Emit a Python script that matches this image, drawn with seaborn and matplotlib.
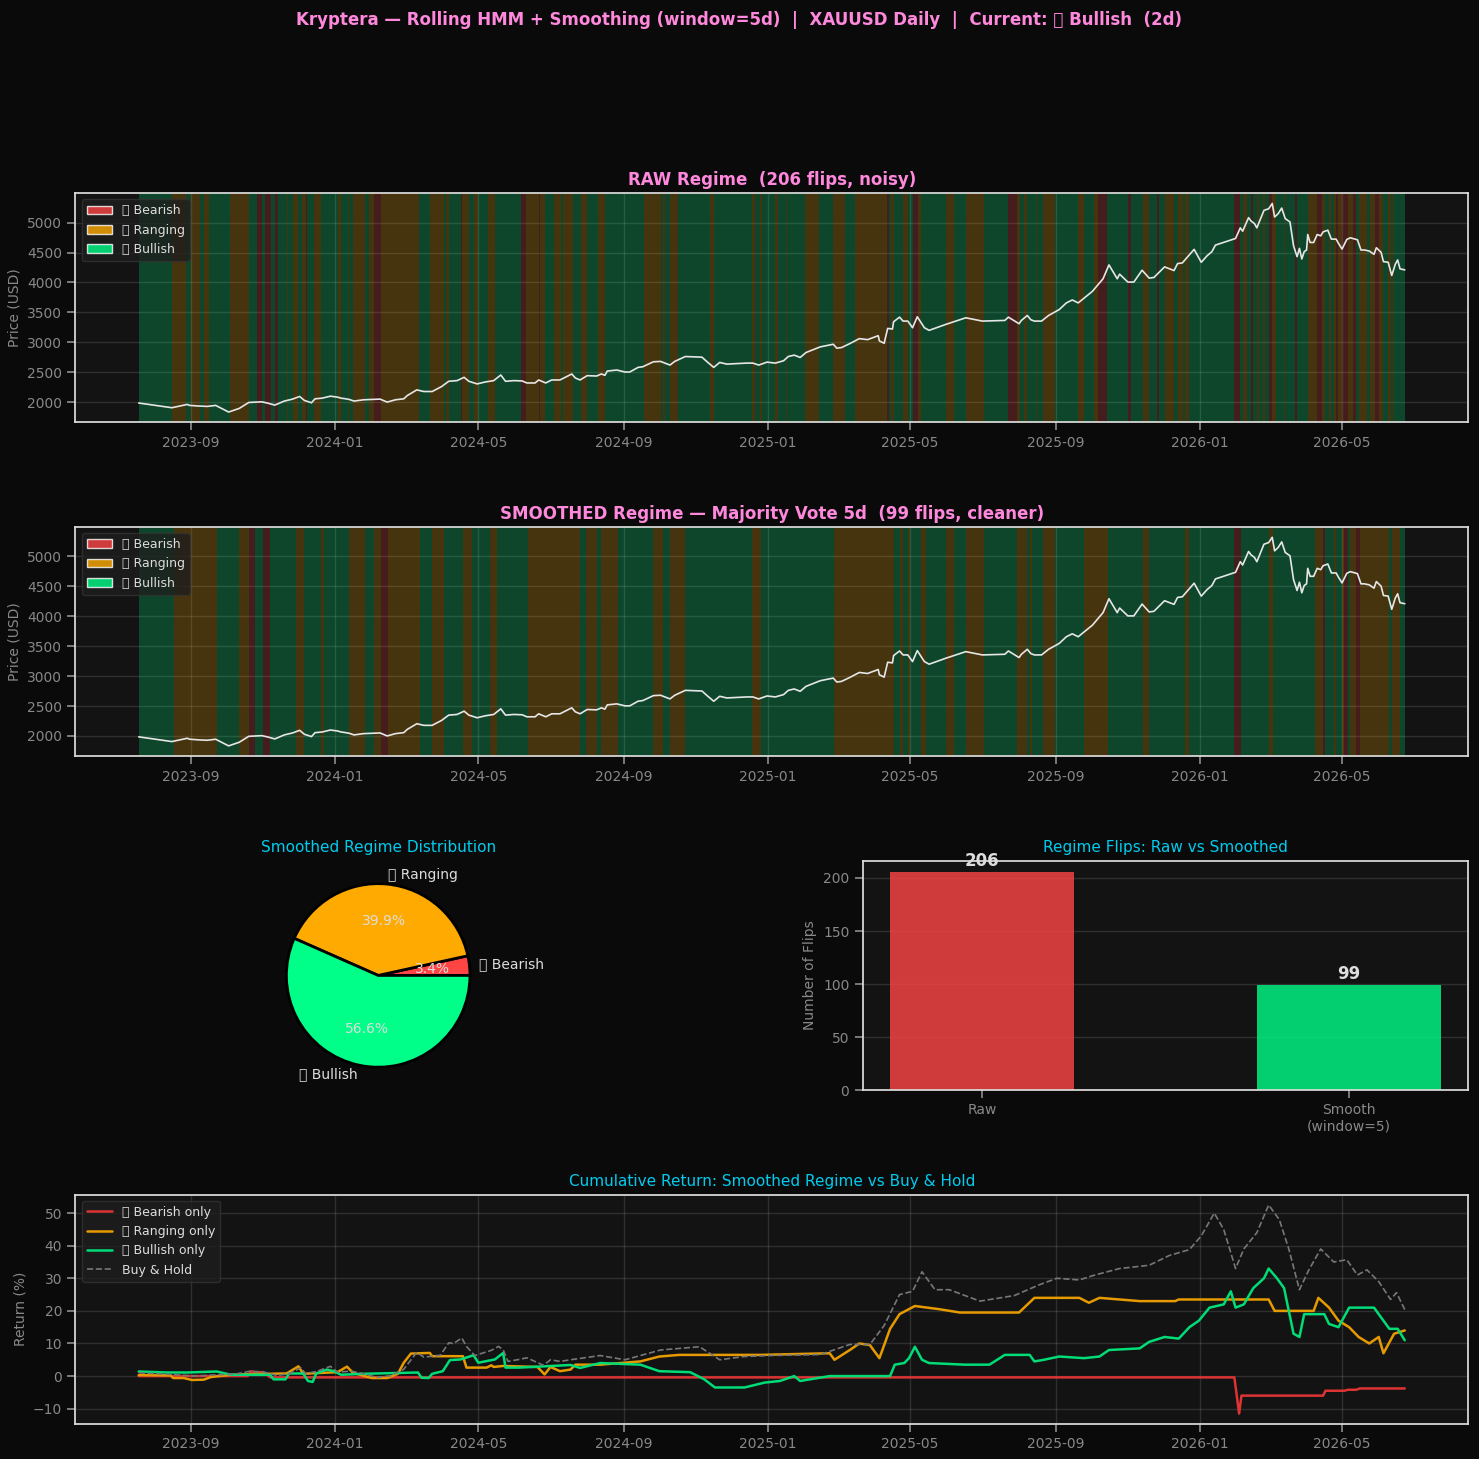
import pandas as pd
import matplotlib
matplotlib.use('Agg')
import matplotlib.pyplot as plt
import matplotlib.dates as mdates
from matplotlib.ticker import MultipleLocator
from matplotlib.patches import Patch
import seaborn as sns

START = pd.Timestamp('2023-07-19')
END_DAY = 1070

# price: (days since start, USD)
price_points = [
    (0, 1985), (28, 1906), (41, 1961), (43, 1945), (51, 1934), (58, 1928), (65, 1945), (76, 1834),
    (85, 1895), (93, 1994), (99, 2000), (104, 2005), (109, 1983), (115, 1950), (123, 2017), (130, 2050),
    (136, 2094), (140, 2028), (146, 1989), (149, 2055), (155, 2066), (162, 2099), (168, 2083), (171, 2066),
    (175, 2055), (178, 2044), (182, 2017), (190, 2039), (204, 2050), (210, 2000), (217, 2039), (224, 2055),
    (227, 2110), (235, 2204), (241, 2177), (248, 2177), (256, 2260), (262, 2348), (269, 2359), (275, 2414),
    (279, 2348), (286, 2304), (293, 2337), (300, 2359), (306, 2453), (310, 2348), (317, 2359), (324, 2354),
    (328, 2320), (335, 2320), (338, 2370), (344, 2320), (349, 2370), (356, 2370), (366, 2470), (369, 2403),
    (373, 2370), (379, 2442), (387, 2436), (391, 2470), (394, 2448), (396, 2519), (404, 2536), (411, 2503),
    (415, 2503), (422, 2580), (426, 2591), (435, 2674), (441, 2680), (449, 2619), (453, 2680), (462, 2762),
    (476, 2751), (481, 2663), (486, 2580), (491, 2663), (497, 2635), (514, 2652), (519, 2652), (524, 2619),
    (531, 2668), (538, 2652), (545, 2691), (549, 2762), (554, 2785), (559, 2746), (564, 2829), (576, 2923),
    (587, 2967), (590, 2901), (594, 2912), (601, 2978), (609, 3061), (616, 3044), (625, 3110), (626, 3022),
    (630, 2983), (633, 3232), (637, 3221), (638, 3343), (643, 3420), (646, 3354), (650, 3354), (654, 3243),
    (658, 3426), (664, 3243), (668, 3199), (682, 3298), (699, 3409), (713, 3354), (732, 3365), (735, 3420),
    (744, 3310), (746, 3365), (751, 3448), (754, 3376), (757, 3354), (763, 3354), (769, 3448), (778, 3547),
    (784, 3658), (789, 3707), (794, 3658), (806, 3851), (815, 4061), (820, 4293), (823, 4193), (827, 4061),
    (829, 4138), (836, 4006), (841, 4006), (848, 4204), (854, 4072), (858, 4083), (867, 4260), (875, 4199),
    (878, 4315), (882, 4326), (892, 4553), (898, 4337), (903, 4447), (907, 4514), (910, 4624), (927, 4735),
    (931, 4912), (933, 4857), (938, 5083), (940, 5028), (943, 4983), (945, 4912), (951, 5204), (955, 5232),
    (958, 5320), (960, 5094), (963, 5149), (966, 5243), (969, 5066), (973, 5011), (976, 4613), (979, 4431),
    (981, 4569), (983, 4392), (985, 4514), (987, 4542), (988, 4801), (990, 4668), (993, 4668), (996, 4801),
    (999, 4779), (1001, 4845), (1005, 4873), (1008, 4724), (1012, 4724), (1014, 4652), (1017, 4558),
    (1021, 4718), (1024, 4746), (1030, 4713), (1033, 4542), (1036, 4542), (1040, 4525), (1044, 4470),
    (1046, 4580), (1050, 4503), (1052, 4348), (1056, 4337), (1059, 4116), (1062, 4304), (1064, 4376),
    (1066, 4227), (1070, 4210),
]

# regime segments: (start day, state) - R bearish, Y ranging, G bullish; each runs to the next start
raw_segments = [
    (0, 'G'), (28, 'Y'), (40, 'G'), (44, 'Y'), (52, 'G'), (55, 'Y'), (59, 'G'), (77, 'Y'), (93, 'G'),
    (100, 'R'), (104, 'G'), (107, 'R'), (112, 'G'), (115, 'R'), (118, 'G'), (125, 'Y'), (126, 'G'),
    (130, 'Y'), (135, 'G'), (138, 'Y'), (141, 'R'), (142, 'G'), (148, 'Y'), (154, 'G'), (168, 'Y'),
    (171, 'G'), (177, 'Y'), (178, 'G'), (181, 'Y'), (191, 'G'), (195, 'Y'), (199, 'R'), (205, 'Y'),
    (237, 'G'), (246, 'Y'), (258, 'G'), (260, 'Y'), (262, 'G'), (272, 'R'), (273, 'Y'), (279, 'G'),
    (283, 'Y'), (287, 'G'), (295, 'Y'), (301, 'G'), (323, 'R'), (327, 'Y'), (338, 'R'), (339, 'Y'),
    (343, 'G'), (351, 'Y'), (357, 'G'), (359, 'Y'), (367, 'G'), (374, 'Y'), (379, 'G'), (388, 'Y'),
    (393, 'G'), (394, 'Y'), (395, 'G'), (427, 'Y'), (441, 'G'), (443, 'Y'), (445, 'G'), (449, 'Y'),
    (456, 'G'), (483, 'Y'), (486, 'G'), (518, 'Y'), (521, 'G'), (525, 'Y'), (527, 'G'), (538, 'Y'),
    (540, 'G'), (547, 'Y'), (548, 'G'), (563, 'Y'), (575, 'G'), (587, 'Y'), (597, 'G'), (605, 'Y'),
    (632, 'R'), (634, 'G'), (636, 'Y'), (638, 'G'), (646, 'Y'), (650, 'G'), (654, 'R'), (659, 'Y'),
    (661, 'G'), (682, 'Y'), (689, 'G'), (699, 'Y'), (714, 'G'), (735, 'R'), (742, 'Y'), (745, 'G'),
    (748, 'Y'), (751, 'G'), (758, 'Y'), (759, 'G'), (764, 'Y'), (774, 'G'), (794, 'Y'), (799, 'G'),
    (807, 'Y'), (811, 'R'), (818, 'G'), (836, 'R'), (839, 'G'), (849, 'Y'), (854, 'G'), (861, 'R'),
    (862, 'G'), (867, 'Y'), (875, 'G'), (878, 'Y'), (883, 'G'), (884, 'Y'), (888, 'G'), (926, 'R'),
    (931, 'G'), (933, 'Y'), (937, 'G'), (940, 'R'), (942, 'G'), (945, 'Y'), (947, 'G'), (950, 'Y'),
    (952, 'G'), (955, 'R'), (958, 'Y'), (961, 'G'), (968, 'Y'), (969, 'G'), (977, 'R'), (979, 'G'),
    (988, 'Y'), (996, 'R'), (1000, 'Y'), (1003, 'G'), (1006, 'Y'), (1008, 'G'), (1010, 'Y'), (1012, 'R'),
    (1014, 'Y'), (1017, 'R'), (1022, 'Y'), (1026, 'R'), (1029, 'G'), (1031, 'Y'), (1038, 'G'),
    (1041, 'Y'), (1045, 'R'), (1048, 'Y'), (1052, 'G'), (1056, 'Y'), (1058, 'G'), (1060, 'Y'), (1061, 'G'),
]
smooth_segments = [
    (0, 'G'), (30, 'Y'), (66, 'G'), (85, 'Y'), (93, 'R'), (98, 'G'), (105, 'R'), (111, 'G'), (133, 'Y'),
    (140, 'G'), (154, 'Y'), (157, 'G'), (178, 'Y'), (191, 'G'), (199, 'Y'), (205, 'R'), (211, 'Y'),
    (238, 'G'), (248, 'Y'), (258, 'G'), (274, 'Y'), (282, 'G'), (297, 'Y'), (303, 'G'), (329, 'Y'),
    (373, 'G'), (378, 'Y'), (387, 'G'), (391, 'Y'), (405, 'G'), (435, 'Y'), (443, 'G'), (449, 'Y'),
    (462, 'G'), (518, 'Y'), (526, 'G'), (588, 'Y'), (638, 'G'), (643, 'Y'), (646, 'G'), (650, 'Y'),
    (652, 'G'), (661, 'Y'), (665, 'G'), (682, 'Y'), (689, 'G'), (699, 'Y'), (714, 'G'), (742, 'Y'),
    (751, 'G'), (753, 'Y'), (755, 'G'), (764, 'Y'), (774, 'G'), (799, 'Y'), (819, 'G'), (849, 'Y'),
    (854, 'G'), (884, 'Y'), (888, 'G'), (926, 'R'), (932, 'G'), (955, 'Y'), (959, 'G'), (994, 'Y'),
    (1001, 'R'), (1003, 'G'), (1010, 'Y'), (1012, 'G'), (1017, 'Y'), (1019, 'R'), (1022, 'G'),
    (1024, 'Y'), (1029, 'R'), (1032, 'Y'), (1057, 'G'), (1059, 'Y'), (1066, 'G'),
]

pie_labels = ['\U0001F534 Bearish', '\U0001F7E1 Ranging', '\U0001F7E2 Bullish']
pie_share = [3.44, 39.94, 56.62]

flip_labels = ['Raw', 'Smooth\n(window=5)']
flip_counts = [206, 99]

# cumulative returns (%): (days since start, value)
bear_points = [(0, 0), (92, 0), (95, 1.5), (98, 1.2), (105, 1.2), (108, 0.5), (111, -0.4), (926, -0.4),
               (930, -11.5), (932, -6), (1001, -6), (1003, -4.5), (1019, -4.5), (1022, -4.2), (1029, -4.2),
               (1032, -3.8), (1070, -3.8)]
rang_points = [(0, 0.3), (27, 0.2), (29, -0.6), (38, -0.6), (45, -1.2), (55, -1.1), (61, -0.3), (78, 0.4),
               (94, 0.6), (125, 0.8), (135, 3.0), (139, 0.7), (156, 1.0), (168, 1.2), (176, 2.9), (181, 1.0),
               (197, -0.6), (210, -0.6), (219, 0.7), (224, 4.1), (230, 6.9), (246, 7.1), (248, 6.1), (274, 6.1),
               (277, 2.6), (294, 2.6), (298, 3.3), (300, 2.8), (308, 3.1), (337, 2.8), (343, 0.5), (348, 2.8),
               (356, 1.5), (365, 2.0), (369, 3.5), (390, 3.5), (424, 4.5), (440, 6), (457, 6.5),
               (474, 6.5), (525, 6.5), (584, 7), (588, 5), (601, 8), (609, 10), (618, 9.5), (626, 5.5),
               (635, 14.5), (643, 19), (656, 21.5), (677, 20.5), (694, 19.5), (744, 19.5), (757, 24),
               (795, 24), (803, 22.5), (812, 24), (846, 23), (876, 23), (879, 23.5), (955, 23.5), (960, 20),
               (993, 20), (997, 24), (1006, 21), (1014, 17), (1023, 15), (1031, 12), (1040, 10), (1048, 12),
               (1052, 7), (1061, 13), (1070, 14)]
bull_points = [(0, 1.4), (24, 1.1), (41, 1.1), (66, 1.4), (78, 0.4), (111, 0.4), (114, -1.0), (124, -1.0),
               (127, 0.8), (139, 0.8), (143, -1.5), (147, -1.8), (150, 0.8), (159, 2.0), (165, 1.5), (171, 0.4),
               (190, 0.7), (236, 1.1), (239, -0.5), (245, -0.6), (248, 0.7), (257, 1.5), (263, 4.9),
               (272, 5.1), (283, 6.4), (287, 4.1), (301, 5.1), (308, 7.1), (310, 2.6), (322, 2.6), (365, 3.4),
               (373, 2.5), (390, 4), (424, 3.5), (440, 1.5), (466, 1.2), (478, -1), (487, -3.5), (512, -3.5),
               (529, -2), (542, -1.5), (554, 0), (559, -1.5), (584, 0), (635, 0), (639, 3.5), (647, 4),
               (651, 5.5), (656, 9), (662, 5), (668, 4), (698, 3.5), (719, 3.5), (732, 6.5), (753, 6.5),
               (757, 4.5), (765, 5), (778, 6), (799, 5.5), (812, 6), (820, 8), (846, 8.5), (854, 10.5),
               (867, 12), (879, 11.5), (888, 15), (896, 17), (905, 21), (917, 22), (923, 26), (927, 21),
               (934, 22), (942, 27), (951, 30), (955, 33), (962, 30), (968, 27), (972, 20), (976, 13),
               (981, 12), (985, 19), (1002, 19), (1006, 16), (1014, 15), (1023, 21), (1044, 21),
               (1057, 14.5), (1064, 14.5), (1070, 11)]
bh_points = [(0, 1.0), (27, 0.5), (47, 0), (83, 0.7), (94, 1.5), (106, 1.2), (117, 0.2), (128, 0.8),
             (137, 2.6), (141, 0.7), (151, 1.5), (162, 3.0), (168, 1.2), (179, 1.5), (187, 1.0), (201, -0.4),
             (213, 0.1), (224, 2.1), (235, 7.3), (241, 5.8), (255, 6.4), (262, 10.2), (266, 10), (269, 10.7),
             (273, 11.7), (277, 9.1), (284, 6.3), (291, 7.1), (298, 7.9), (304, 9.1), (308, 8.1), (312, 4.5),
             (320, 5.0), (328, 5.6), (336, 4.3), (342, 3.3), (348, 5.0), (356, 4.5), (365, 5.0), (390, 6.3),
             (411, 5), (441, 8), (474, 9), (491, 5), (512, 6), (533, 6.3), (576, 6.6), (601, 9.7), (618, 9.7),
             (630, 15.5), (643, 25), (654, 26), (662, 32), (673, 26.5), (685, 26.5), (711, 23), (740, 24.7),
             (761, 28), (776, 30), (795, 29.5), (808, 31), (829, 33), (854, 34), (871, 37), (888, 38.8),
             (898, 43), (909, 50), (917, 45), (927, 33), (934, 39), (945, 44), (955, 52.5), (964, 48),
             (972, 39), (981, 26.5), (989, 32.6), (999, 39), (1010, 35), (1021, 35.7), (1030, 31),
             (1038, 32.6), (1048, 29), (1058, 23.5), (1063, 25.6), (1070, 20.4)]

REG_COLORS = {'R': '#ff4444', 'Y': '#ffaa00', 'G': '#00ff88'}
BG = '#0a0a0a'
PANEL = '#131313'
PINK = '#ff88dd'
CYAN = '#00ccee'
GREY = '#888888'

sns.set_theme(style='dark')
plt.rcParams.update({
    'figure.facecolor': BG,
    'axes.facecolor': PANEL,
    'axes.edgecolor': '#dddddd',
    'axes.labelcolor': GREY,
    'axes.labelsize': 10,
    'xtick.labelsize': 10,
    'ytick.labelsize': 10,
    'xtick.color': GREY,
    'ytick.color': GREY,
    'xtick.bottom': True,
    'ytick.left': True,
    'text.color': '#dddddd',
    'grid.color': '#ffffff',
    'grid.alpha': 0.12,
    'font.size': 10,
})
plt.rcParams['font.family'] = ['DejaVu Sans']


def to_dates(points):
    days = [p[0] for p in points]
    vals = [p[1] for p in points]
    return START + pd.to_timedelta(days, unit='D'), vals


def date_axis(ax):
    ax.xaxis.set_major_locator(mdates.MonthLocator(bymonth=[1, 5, 9]))
    ax.xaxis.set_major_formatter(mdates.DateFormatter('%Y-%m'))
    ax.grid(True)
    ax.set_xlabel('')


def regime_panel(ax, segments, title):
    ends = [s[0] for s in segments[1:]] + [END_DAY]
    for (d0, s), d1 in zip(segments, ends):
        ax.axvspan(START + pd.Timedelta(days=d0), START + pd.Timedelta(days=d1),
                   color=REG_COLORS[s], alpha=0.22, lw=0)
    dates, vals = to_dates(price_points)
    sns.lineplot(x=dates, y=vals, ax=ax, color='#e6e6e6', lw=1.2)
    date_axis(ax)
    ax.yaxis.set_major_locator(MultipleLocator(500))
    ax.set_ylabel('Price (USD)')
    ax.set_title(title, color=PINK, fontsize=12, fontweight='bold')
    handles = [Patch(facecolor=REG_COLORS[k], alpha=0.8, label=l) for k, l in zip('RYG', pie_labels)]
    ax.legend(handles=handles, loc='upper left', fontsize=9, facecolor='#1e1e1e',
              edgecolor='#333333', labelcolor='#dddddd')


fig = plt.figure(figsize=(14.79, 14.59), dpi=100)
gs = fig.add_gridspec(4, 2, left=0.051, right=0.9926, top=0.8677, bottom=0.024,
                      hspace=0.455, wspace=0.3)
ax1 = fig.add_subplot(gs[0, :])
ax2 = fig.add_subplot(gs[1, :], sharex=ax1)
ax3 = fig.add_subplot(gs[2, 0])
ax4 = fig.add_subplot(gs[2, 1])
ax5 = fig.add_subplot(gs[3, :])

regime_panel(ax1, raw_segments, 'RAW Regime  (206 flips, noisy)')
regime_panel(ax2, smooth_segments, 'SMOOTHED Regime \u2014 Majority Vote 5d  (99 flips, cleaner)')
ax2.tick_params(labelbottom=True)

# pie
ax3.pie(pie_share, labels=pie_labels, colors=[REG_COLORS[k] for k in 'RYG'], autopct='%1.1f%%',
        startangle=0, wedgeprops=dict(edgecolor='black', linewidth=2),
        textprops=dict(color='#dddddd', fontsize=10))
ax3.set_title('Smoothed Regime Distribution', color=CYAN, fontsize=11)

# flips bar
sns.barplot(x=flip_labels, y=flip_counts, hue=flip_labels, palette=['#ff4444', '#00ff88'],
            saturation=1, alpha=0.8, width=0.5, legend=False, linewidth=0, ax=ax4)
for i, v in enumerate(flip_counts):
    ax4.text(i, v + 2, str(v), ha='center', va='bottom', fontsize=12, fontweight='bold', color='#dddddd')
ax4.set_xlim(-0.325, 1.325)
ax4.set_ylim(0, 216.3)
ax4.set_ylabel('Number of Flips')
ax4.set_title('Regime Flips: Raw vs Smoothed', color=CYAN, fontsize=11)
ax4.grid(True, axis='y')

# cumulative returns
for pts, col, lab, ls, lw in [
    (bear_points, '#dd3333', pie_labels[0] + ' only', '-', 1.8),
    (rang_points, '#e69a00', pie_labels[1] + ' only', '-', 1.8),
    (bull_points, '#00dd77', pie_labels[2] + ' only', '-', 1.8),
    (bh_points, '#777777', 'Buy & Hold', '--', 1.2),
]:
    d, v = to_dates(pts)
    sns.lineplot(x=d, y=v, ax=ax5, color=col, lw=lw, linestyle=ls, label=lab)
date_axis(ax5)
ax5.yaxis.set_major_locator(MultipleLocator(10))
ax5.set_ylabel('Return (%)')
ax5.set_title('Cumulative Return: Smoothed Regime vs Buy & Hold', color=CYAN, fontsize=11)
ax5.legend(loc='upper left', fontsize=9, facecolor='#1e1e1e', edgecolor='#333333', labelcolor='#dddddd')

fig.suptitle('Kryptera \u2014 Rolling HMM + Smoothing (window=5d)  |  XAUUSD Daily  |  '
             'Current: \U0001F7E2 Bullish  (2d)', y=0.9925, fontsize=12, fontweight='bold', color=PINK)

fig.savefig('out.png', dpi=100, facecolor=BG)
